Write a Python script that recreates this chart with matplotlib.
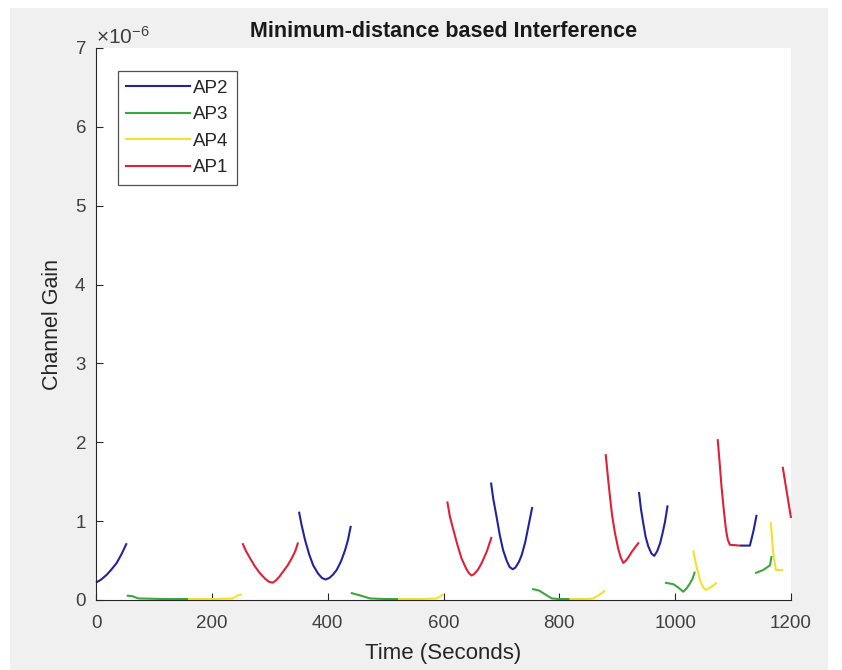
import matplotlib
matplotlib.use("Agg")
import matplotlib.pyplot as plt
from matplotlib.patches import Rectangle
from matplotlib.lines import Line2D
from matplotlib.ticker import ScalarFormatter

plt.rcParams['font.family'] = ['Liberation Sans', 'DejaVu Sans']
plt.rcParams['mathtext.fontset'] = 'custom'
plt.rcParams['mathtext.rm'] = 'Liberation Sans'
plt.rcParams['mathtext.it'] = 'Liberation Sans:italic'

# Channel gain per serving access point, in units of 1e-6.
# Each AP has several separate time windows (seconds).
ap2_segments = [
    ([0, 9, 18.5, 27, 35.7, 44, 53],
     [0.22, 0.26, 0.32, 0.39, 0.47, 0.58, 0.72]),
    ([350.5, 355, 361, 368, 375, 383, 390, 396.5, 403, 409, 415.5, 423, 430, 435, 440],
     [1.12, 0.95, 0.76, 0.58, 0.44, 0.34, 0.28, 0.26, 0.28, 0.32, 0.38, 0.49, 0.63, 0.76, 0.94]),
    ([682, 686, 692, 697, 703, 709, 714, 719.4, 724, 730, 735, 741, 746.5, 753.3],
     [1.49, 1.28, 1.04, 0.83, 0.63, 0.50, 0.42, 0.39, 0.41, 0.48, 0.57, 0.73, 0.93, 1.18]),
    ([937.5, 941, 945, 949, 953.6, 959, 964, 969, 974, 978, 982.4, 987],
     [1.37, 1.15, 0.97, 0.80, 0.68, 0.59, 0.56, 0.62, 0.72, 0.84, 0.99, 1.20]),
    ([1112, 1129, 1135, 1140.7],
     [0.69, 0.69, 0.87, 1.08]),
]
ap3_segments = [
    ([53, 62, 73, 120, 159], [0.055, 0.05, 0.02, 0.012, 0.012]),
    ([440, 455, 473, 500, 522], [0.09, 0.06, 0.02, 0.012, 0.012]),
    ([753, 765, 778, 787, 800, 818], [0.14, 0.12, 0.06, 0.02, 0.012, 0.012]),
    ([982.4, 990, 997, 1005, 1014, 1020, 1025.5, 1030, 1034],
     [0.22, 0.21, 0.20, 0.16, 0.105, 0.15, 0.21, 0.27, 0.36]),
    ([1138, 1152, 1163.7, 1166.6], [0.34, 0.38, 0.44, 0.56]),
]
ap4_segments = [
    ([159, 200, 236, 245, 252], [0.012, 0.012, 0.02, 0.06, 0.07]),
    ([522, 560, 588, 600], [0.012, 0.012, 0.02, 0.07]),
    ([818, 845, 859, 870, 879], [0.012, 0.012, 0.02, 0.07, 0.12]),
    ([1031, 1037, 1043, 1047, 1051.6, 1057, 1063, 1072],
     [0.63, 0.42, 0.25, 0.18, 0.13, 0.14, 0.17, 0.22]),
    ([1165, 1169.4, 1174, 1186.6], [0.99, 0.59, 0.38, 0.38]),
]
ap1_segments = [
    ([253, 259, 266, 274, 283, 292, 299, 305, 311, 317, 323, 331, 338, 344, 349],
     [0.72, 0.62, 0.53, 0.43, 0.34, 0.27, 0.23, 0.22, 0.25, 0.30, 0.36, 0.44, 0.53, 0.62, 0.73]),
    ([606.5, 611, 617, 624, 631, 639, 644, 648.6, 653, 660, 666, 675, 683],
     [1.25, 1.06, 0.89, 0.70, 0.53, 0.40, 0.34, 0.31, 0.33, 0.39, 0.47, 0.62, 0.80]),
    ([880, 884, 887.4, 891, 896, 902, 906, 910.4, 915, 920, 925, 931, 937.5],
     [1.85, 1.55, 1.31, 1.08, 0.85, 0.64, 0.54, 0.47, 0.50, 0.55, 0.61, 0.67, 0.73]),
    ([1073.4, 1077, 1080, 1084, 1087.7, 1091, 1094.5, 1112],
     [2.04, 1.72, 1.44, 1.14, 0.89, 0.76, 0.70, 0.69]),
    ([1185.6, 1200], [1.69, 1.04]),
]

series_labels = ['AP2', 'AP3', 'AP4', 'AP1']
series_colors = ['#23239a', '#3aa83a', '#f2e22c', '#df2038']
series_data = [ap2_segments, ap3_segments, ap4_segments, ap1_segments]

x_ticks = [0, 200, 400, 600, 800, 1000, 1200]
y_ticks = [0, 1, 2, 3, 4, 5, 6, 7]
scale = 1e-6

fig = plt.figure(figsize=(8.42, 6.70), dpi=100)
fig.patch.set_facecolor('white')
fig.patches.append(Rectangle((10 / 842, 0), (828 - 10) / 842, (670 - 8) / 670,
                             transform=fig.transFigure, facecolor='#f0f0f0',
                             edgecolor='none', zorder=-10))

ax = fig.add_axes([96 / 842, 70 / 670, 695 / 842, 552 / 670])
ax.set_facecolor('white')

for segs, color in zip(series_data, series_colors):
    for xs, ys in segs:
        ax.plot(xs, [v * scale for v in ys], color=color, lw=1.5,
                solid_capstyle='butt', solid_joinstyle='round', clip_on=False)

ax.set_xlim(0, 1200)
ax.set_ylim(0, 7 * scale)
ax.set_xticks(x_ticks)
ax.set_yticks([v * scale for v in y_ticks])

fmt = ScalarFormatter(useMathText=True)
fmt.set_powerlimits((-3, 3))
ax.yaxis.set_major_formatter(fmt)
ax.yaxis.get_offset_text().set_fontsize(15)
ax.yaxis.get_offset_text().set_color('#404040')

for side in ('top', 'right'):
    ax.spines[side].set_visible(False)
for side in ('left', 'bottom'):
    ax.spines[side].set_color('#262626')
    ax.spines[side].set_linewidth(0.8)

ax.tick_params(direction='in', length=5, width=0.8, color='#262626',
               labelsize=13.5, labelcolor='#404040')
ax.tick_params(axis='x', pad=11)
ax.tick_params(axis='y', pad=7)

ax.set_title('Minimum-distance based Interference', fontsize=15.5,
             fontweight='bold', color='#1a1a1a', pad=8)
ax.set_xlabel('Time (Seconds)', fontsize=16, color='#262626', labelpad=8)
ax.set_ylabel('Channel Gain', fontsize=15.5, color='#262626', labelpad=8)

handles = [Line2D([], [], color=c, lw=1.5) for c in series_colors]
leg = ax.legend(handles, series_labels, loc='upper left',
                bbox_to_anchor=((118 - 96) / 695, (600 - 71) / 552),
                borderaxespad=0, fontsize=13.5, frameon=True, fancybox=False,
                handlelength=3.4, handletextpad=0.15, labelspacing=0.5,
                borderpad=0.45)
leg.get_frame().set_edgecolor('#262626')
leg.get_frame().set_linewidth(0.9)
for t in leg.get_texts():
    t.set_color('#262626')

fig.savefig('out.png', dpi=100, facecolor=fig.get_facecolor())
